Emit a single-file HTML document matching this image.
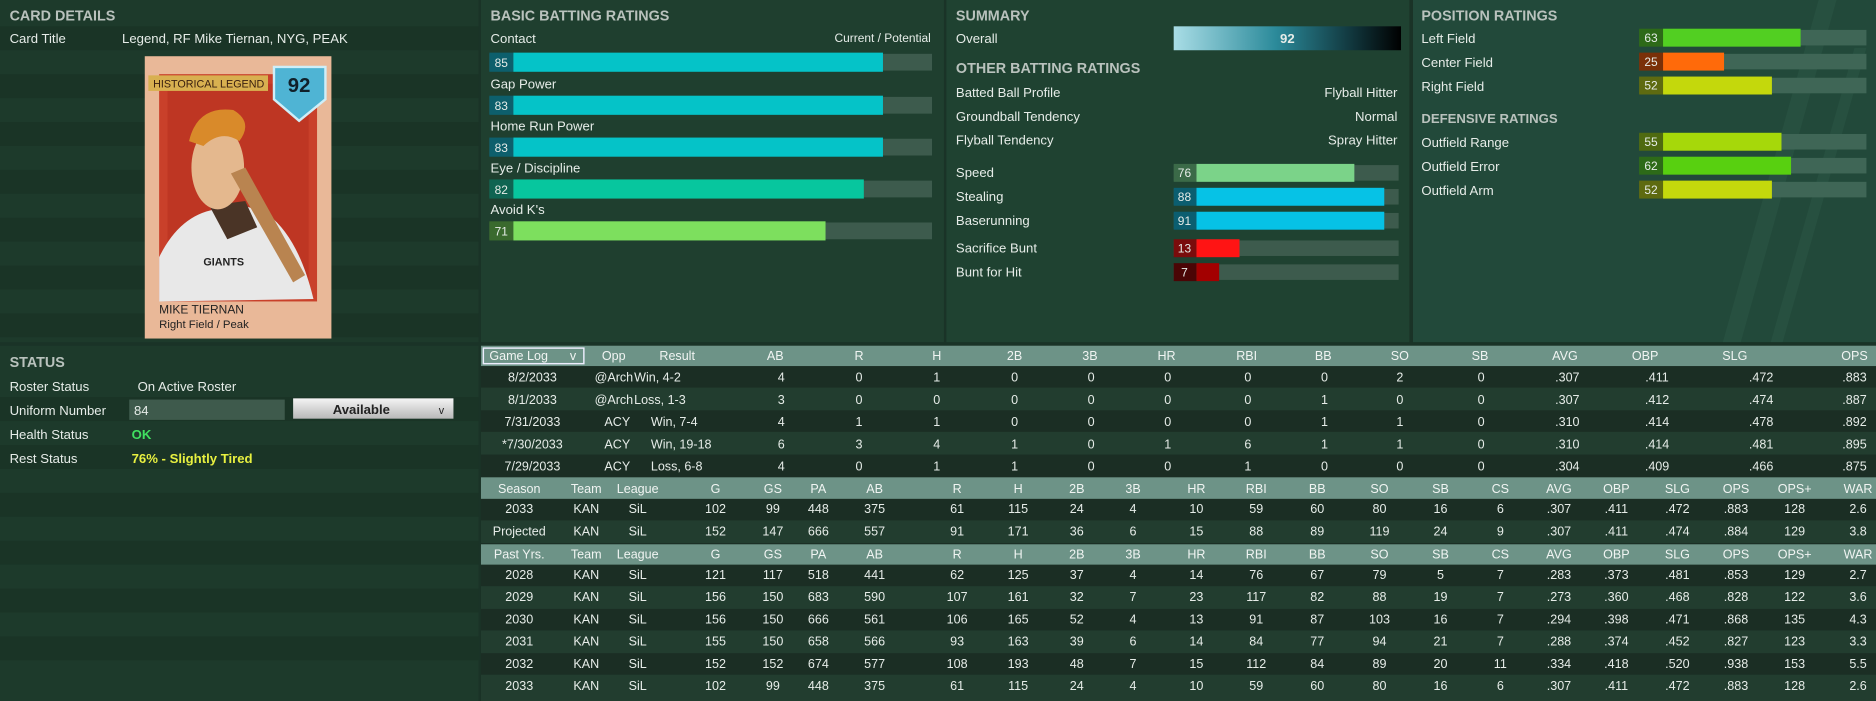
<!DOCTYPE html>
<html><head><meta charset="utf-8"><style>
html,body{margin:0;padding:0;background:#1b3528;overflow:hidden;width:1876px;height:701px}
svg{display:block}
text{font-family:"Liberation Sans",sans-serif;fill:#e6ece8;font-size:11px}
.h{font-weight:bold;fill:#b9c2bd;font-size:12px}
.b{font-weight:bold}
.m{text-anchor:middle}
.e{text-anchor:end}
.th{fill:#f0f4f2;font-size:10.5px}
.tt{font-size:10.5px}
</style></head><body>
<svg width="1876" height="701" viewBox="0 0 1568 586" preserveAspectRatio="none">
<defs>
<linearGradient id="ov" x1="0" x2="1"><stop offset="0" stop-color="#a9dde6"/><stop offset="0.45" stop-color="#2b8a9a"/><stop offset="1" stop-color="#000"/></linearGradient>
<linearGradient id="av" x1="0" y1="0" x2="0" y2="1"><stop offset="0" stop-color="#f4f4f4"/><stop offset="1" stop-color="#b8b8b8"/></linearGradient>
</defs>
<rect width="1568" height="586" fill="#1a3327"/>
<rect x="0" y="0" width="400" height="286" fill="#1d3a2b"/>
<g fill="#1a3326" opacity="0.8">
<rect x="0" y="22" width="400" height="20"/><rect x="0" y="62" width="400" height="20"/><rect x="0" y="102" width="400" height="20"/><rect x="0" y="142" width="400" height="20"/><rect x="0" y="182" width="400" height="20"/><rect x="0" y="222" width="400" height="20"/><rect x="0" y="262" width="400" height="20"/>
</g>
<rect x="402" y="0" width="387" height="286" fill="#1f3f2f"/>
<rect x="791" y="0" width="387" height="286" fill="#1f4231"/>
<rect x="1181" y="0" width="387" height="286" fill="#22493a"/>
<path d="M1440 286 L1520 0 L1535 0 L1455 286Z M1480 286 L1550 40 L1560 40 L1490 286Z" fill="#2c5545" opacity="0.6"/>
<rect x="0" y="289" width="400" height="297" fill="#1d3a2b"/>
<g fill="#1a3326" opacity="0.8"><rect x="0" y="332" width="400" height="20"/><rect x="0" y="372" width="400" height="20"/><rect x="0" y="412" width="400" height="20"/><rect x="0" y="452" width="400" height="20"/><rect x="0" y="492" width="400" height="20"/><rect x="0" y="532" width="400" height="20"/></g>

<text x="8" y="17" class="h">CARD DETAILS</text>
<text x="8" y="36">Card Title</text>
<text x="102" y="36">Legend, RF Mike Tiernan, NYG, PEAK</text>
<rect x="121" y="47" width="156" height="236" fill="#e9b898"/>
<rect x="133" y="62" width="132" height="190" fill="#c9402a"/>
<rect x="140" y="70" width="118" height="180" fill="#b83020" opacity="0.6"/>
<path d="M133 252 L133 215 Q150 180 180 175 L200 170 L225 180 Q250 200 262 250Z" fill="#e8e8e8"/>
<path d="M175 172 L205 168 L215 190 L190 200Z" fill="#4a3426"/>
<ellipse cx="182" cy="140" rx="22" ry="35" fill="#e4b88e"/>
<path d="M158 118 Q165 88 195 92 Q212 102 200 118 Q185 108 170 122Z" fill="#d98a2a"/>
<path d="M193 145 L205 140 L255 230 L245 236Z" fill="#b98450"/>
<text x="170" y="222" style="font-size:9px;fill:#222;font-weight:bold">GIANTS</text>
<rect x="124" y="63" width="100" height="13" fill="#d8b050"/>
<text x="128" y="73" style="font-size:9px;fill:#3a2010">HISTORICAL LEGEND</text>
<path d="M229 56 L272 56 L272 83 L250 101 L229 83Z" fill="#4fb4d4" stroke="#cfeef8" stroke-width="2"/>
<text x="250" y="77" class="m b" style="font-size:17px;fill:#10202a">92</text>
<text x="133" y="262" style="font-size:10px;fill:#222">MIKE TIERNAN</text>
<text x="133" y="274" style="font-size:9.5px;fill:#222">Right Field / Peak</text>

<text x="410" y="17" class="h">BASIC BATTING RATINGS</text>
<text x="410" y="36">Contact</text><text x="778" y="35" class="e" style="font-size:10px">Current / Potential</text>
<text x="410" y="74">Gap Power</text><text x="410" y="109">Home Run Power</text><text x="410" y="144">Eye / Discipline</text><text x="410" y="179">Avoid K's</text>
<g>
<rect x="409" y="45" width="370" height="14" fill="#3d5b4d"/><rect x="429" y="44" width="309" height="16" fill="#05c3c8"/><rect x="409" y="44" width="20" height="16" fill="#0d5f6c"/><text x="419" y="56" class="m" style="font-size:10px">85</text>
<rect x="409" y="81" width="370" height="14" fill="#3d5b4d"/><rect x="429" y="80" width="309" height="16" fill="#05c3c8"/><rect x="409" y="80" width="20" height="16" fill="#0d5f6c"/><text x="419" y="92" class="m" style="font-size:10px">83</text>
<rect x="409" y="116" width="370" height="14" fill="#3d5b4d"/><rect x="429" y="115" width="309" height="16" fill="#05c3c8"/><rect x="409" y="115" width="20" height="16" fill="#0d5f6c"/><text x="419" y="127" class="m" style="font-size:10px">83</text>
<rect x="409" y="151" width="370" height="14" fill="#3d5b4d"/><rect x="429" y="150" width="293" height="16" fill="#07c69e"/><rect x="409" y="150" width="20" height="16" fill="#0f6452"/><text x="419" y="162" class="m" style="font-size:10px">82</text>
<rect x="409" y="186" width="370" height="14" fill="#3d5b4d"/><rect x="429" y="185" width="261" height="16" fill="#7ddf5e"/><rect x="409" y="185" width="20" height="16" fill="#3a6a2e"/><text x="419" y="197" class="m" style="font-size:10px">71</text>
</g>

<text x="799" y="17" class="h">SUMMARY</text>
<text x="799" y="36">Overall</text>
<rect x="981" y="22" width="190" height="20" fill="url(#ov)"/><text x="1076" y="36" class="m b">92</text>
<text x="799" y="61" class="h">OTHER BATTING RATINGS</text>
<text x="799" y="81">Batted Ball Profile</text><text x="1168" y="81" class="e">Flyball Hitter</text>
<text x="799" y="101">Groundball Tendency</text><text x="1168" y="101" class="e">Normal</text>
<text x="799" y="121">Flyball Tendency</text><text x="1168" y="121" class="e">Spray Hitter</text>
<text x="799" y="148">Speed</text><text x="799" y="168">Stealing</text><text x="799" y="188">Baserunning</text><text x="799" y="211">Sacrifice Bunt</text><text x="799" y="231">Bunt for Hit</text>
<rect x="981" y="138" width="188" height="13" fill="#3d5b4d"/><rect x="1000" y="137" width="132" height="15" fill="#7bd389"/><rect x="981" y="137" width="19" height="15" fill="#3b6a48"/><text x="990" y="148" class="m" style="font-size:10px">76</text>
<rect x="981" y="158" width="188" height="13" fill="#3d5b4d"/><rect x="1000" y="157" width="157" height="15" fill="#06c2e6"/><rect x="981" y="157" width="19" height="15" fill="#0b5e70"/><text x="990" y="168" class="m" style="font-size:10px">88</text>
<rect x="981" y="178" width="188" height="13" fill="#3d5b4d"/><rect x="1000" y="177" width="157" height="15" fill="#06c2e6"/><rect x="981" y="177" width="19" height="15" fill="#0b5e70"/><text x="990" y="188" class="m" style="font-size:10px">91</text>
<rect x="981" y="201" width="188" height="13" fill="#3d5b4d"/><rect x="1000" y="200" width="36" height="15" fill="#ff1414"/><rect x="981" y="200" width="19" height="15" fill="#7a0c0c"/><text x="990" y="211" class="m" style="font-size:10px">13</text>
<rect x="981" y="221" width="188" height="13" fill="#3d5b4d"/><rect x="1000" y="220" width="19" height="15" fill="#a30000"/><rect x="981" y="220" width="19" height="15" fill="#4a0505"/><text x="990" y="231" class="m" style="font-size:10px">7</text>

<text x="1188" y="17" class="h">POSITION RATINGS</text>
<text x="1188" y="36">Left Field</text><text x="1188" y="56">Center Field</text><text x="1188" y="76">Right Field</text>
<text x="1188" y="103" class="h" style="font-size:11px">DEFENSIVE RATINGS</text>
<text x="1188" y="123">Outfield Range</text><text x="1188" y="143">Outfield Error</text><text x="1188" y="163">Outfield Arm</text>
<g>
<rect x="1370" y="25" width="190" height="13" fill="#3f6656"/><rect x="1390" y="24" width="115" height="15" fill="#52cf22"/><rect x="1370" y="24" width="20" height="15" fill="#2d6a18"/><text x="1380" y="35" class="m" style="font-size:10px">63</text>
<rect x="1370" y="45" width="190" height="13" fill="#3f6656"/><rect x="1390" y="44" width="51" height="15" fill="#ff6a0a"/><rect x="1370" y="44" width="20" height="15" fill="#7a3008"/><text x="1380" y="55" class="m" style="font-size:10px">25</text>
<rect x="1370" y="65" width="190" height="13" fill="#3f6656"/><rect x="1390" y="64" width="91" height="15" fill="#c4d80c"/><rect x="1370" y="64" width="20" height="15" fill="#5e6a10"/><text x="1380" y="75" class="m" style="font-size:10px">52</text>
<rect x="1370" y="112" width="190" height="13" fill="#3f6656"/><rect x="1390" y="111" width="99" height="15" fill="#a6d80a"/><rect x="1370" y="111" width="20" height="15" fill="#4f6a10"/><text x="1380" y="122" class="m" style="font-size:10px">55</text>
<rect x="1370" y="132" width="190" height="13" fill="#3f6656"/><rect x="1390" y="131" width="107" height="15" fill="#58d010"/><rect x="1370" y="131" width="20" height="15" fill="#2d6a18"/><text x="1380" y="142" class="m" style="font-size:10px">62</text>
<rect x="1370" y="152" width="190" height="13" fill="#3f6656"/><rect x="1390" y="151" width="91" height="15" fill="#c4d80c"/><rect x="1370" y="151" width="20" height="15" fill="#5e6a10"/><text x="1380" y="162" class="m" style="font-size:10px">52</text>
</g>

<text x="8" y="307" class="h">STATUS</text>
<text x="8" y="327">Roster Status</text><text x="115" y="327">On Active Roster</text>
<text x="8" y="347">Uniform Number</text>
<rect x="108" y="334" width="130" height="17" fill="#3e5a4c"/><text x="112" y="347">84</text>
<rect x="245" y="333" width="134" height="17" fill="url(#av)"/><text x="302" y="346" class="m b" style="fill:#222">Available</text><text x="369" y="346" class="m" style="fill:#222;font-size:9px">v</text>
<text x="8" y="367">Health Status</text><text x="110" y="367" class="b" style="fill:#40e060">OK</text>
<text x="8" y="387">Rest Status</text><text x="110" y="387" class="b" style="fill:#e8f040">76% - Slightly Tired</text>

<rect x="402" y="289" width="1166" height="297" fill="#1b2e24"/>
<g fill="#223d2f">
<rect x="402" y="324" width="1166" height="19"/><rect x="402" y="361" width="1166" height="19"/>
<rect x="402" y="435" width="1166" height="19"/>
<rect x="402" y="490" width="1166" height="19"/><rect x="402" y="527" width="1166" height="19"/><rect x="402" y="564" width="1166" height="22"/>
</g>
<rect x="402" y="289" width="1166" height="17" fill="#6d9387"/>
<rect x="402" y="399" width="1166" height="18" fill="#6d9387"/>
<rect x="402" y="455" width="1166" height="17" fill="#6d9387"/>
<rect x="404" y="291" width="84" height="13" fill="none" stroke="#eef" stroke-width="1.2"/>
<g id="tbl"></g>
</svg>
<script>
var NS="http://www.w3.org/2000/svg",g=document.getElementById("tbl");
function t(x,y,s,c){var e=document.createElementNS(NS,"text");e.setAttribute("x",x);e.setAttribute("y",y);e.setAttribute("class",c||"m tt");e.textContent=s;g.appendChild(e);}
t(409,301,"Game Log","th");t(479,301,"v","m th");
var gh=[["Opp",513],["Result",566],["AB",648],["R",718],["H",783],["2B",848],["3B",911],["HR",975],["RBI",1042],["BB",1106],["SO",1170],["SB",1237],["AVG",1308],["OBP",1375],["SLG",1450],["OPS",1550]];
gh.forEach(function(h){t(h[1],301,h[0],"m th");});
var gl=[["8/2/2033","@Arch","Win, 4-2","4 0 1 0 0 0 0 0 2 0 .307 .411 .472 .883"],
["8/1/2033","@Arch","Loss, 1-3","3 0 0 0 0 0 0 1 0 0 .307 .412 .474 .887"],
["7/31/2033","ACY","Win, 7-4","4 1 1 0 0 0 0 1 1 0 .310 .414 .478 .892"],
["*7/30/2033","ACY","Win, 19-18","6 3 4 1 0 1 6 1 1 0 .310 .414 .481 .895"],
["7/29/2033","ACY","Loss, 6-8","4 0 1 1 0 0 1 0 0 0 .304 .409 .466 .875"]];
var gx=[653,718,783,848,912,976,1043,1107,1170,1238,1310,1385,1472,1550];
gl.forEach(function(r,i){var y=319+i*18.6;t(445,y,r[0]);
 if(r[1]=="@Arch"){t(497,y,r[1],"tt");t(530,y,r[2],"tt");}else{t(516,y,r[1]);t(544,y,r[2],"tt");}
 r[3].split(" ").forEach(function(v,j){t(gx[j],y,v);});});
var sx=[434,490,533,598,646,684,731,800,851,900,947,1000,1050,1101,1153,1204,1254,1303,1351,1402,1451,1500,1553];
var sh="Team League G GS PA AB R H 2B 3B HR RBI BB SO SB CS AVG OBP SLG OPS OPS+ WAR".split(" ");
function hdr(y,first){t(sx[0],y,first,"m th");sh.forEach(function(h,j){t(sx[j+1],y,h,"m th");});}
hdr(412,"Season");hdr(467,"Past Yrs.");
function rows(y0,data){data.forEach(function(r,i){r.split(" ").forEach(function(v,j){t(sx[j],y0+i*18.6,v);});});}
rows(429,["2033 KAN SiL 102 99 448 375 61 115 24 4 10 59 60 80 16 6 .307 .411 .472 .883 128 2.6",
"Projected KAN SiL 152 147 666 557 91 171 36 6 15 88 89 119 24 9 .307 .411 .474 .884 129 3.8"]);
rows(484,["2028 KAN SiL 121 117 518 441 62 125 37 4 14 76 67 79 5 7 .283 .373 .481 .853 129 2.7",
"2029 KAN SiL 156 150 683 590 107 161 32 7 23 117 82 88 19 7 .273 .360 .468 .828 122 3.6",
"2030 KAN SiL 156 150 666 561 106 165 52 4 13 91 87 103 16 7 .294 .398 .471 .868 135 4.3",
"2031 KAN SiL 155 150 658 566 93 163 39 6 14 84 77 94 21 7 .288 .374 .452 .827 123 3.3",
"2032 KAN SiL 152 152 674 577 108 193 48 7 15 112 84 89 20 11 .334 .418 .520 .938 153 5.5",
"2033 KAN SiL 102 99 448 375 61 115 24 4 10 59 60 80 16 6 .307 .411 .472 .883 128 2.6"]);
</script>
</body></html>
